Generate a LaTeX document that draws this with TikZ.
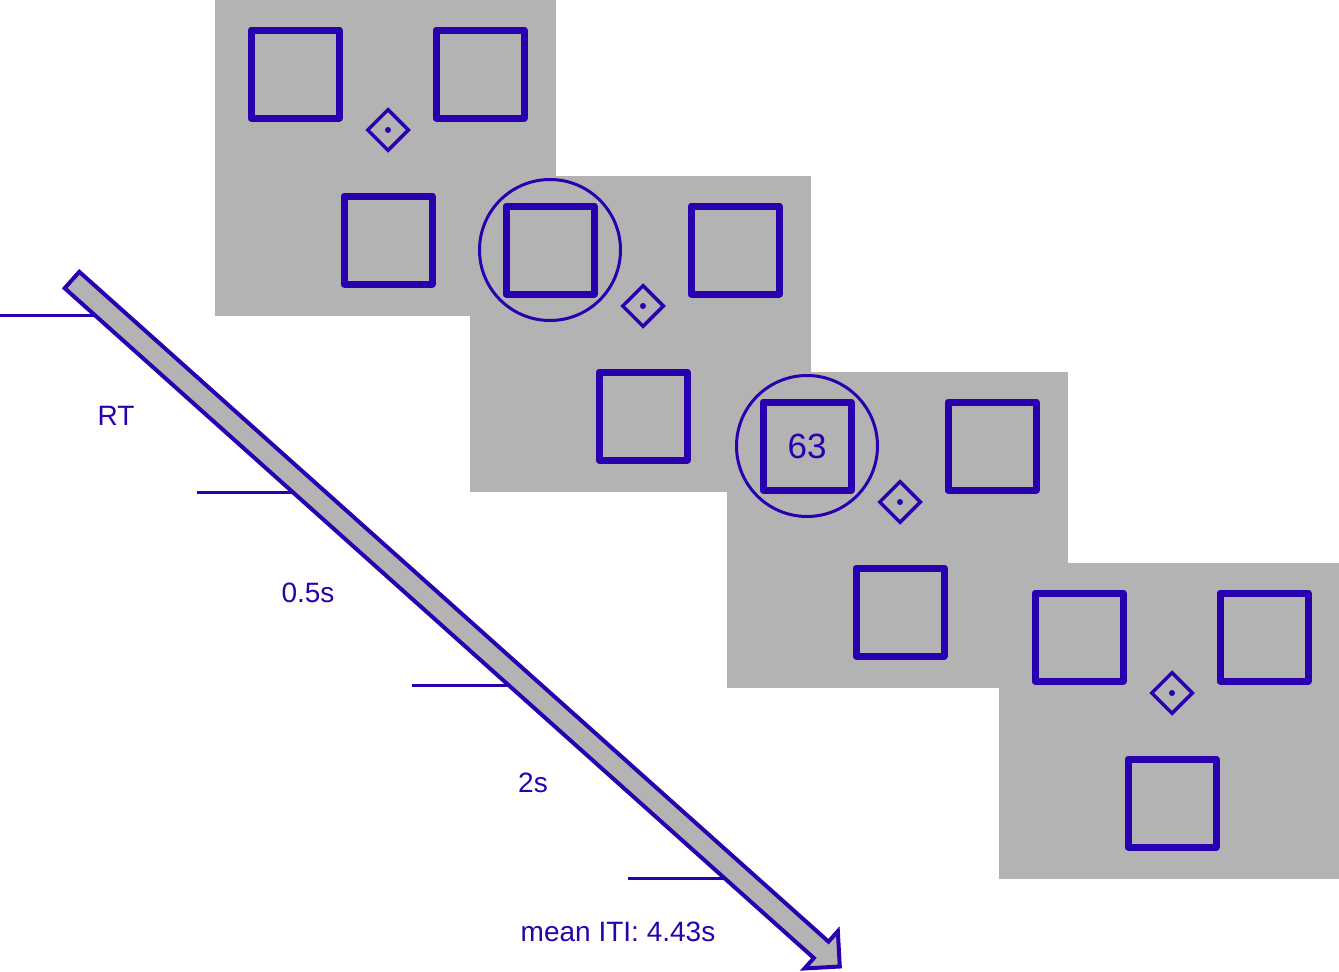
\documentclass[tikz,border=0pt]{standalone}
\usepackage{fontspec}
\setmainfont{Liberation Sans}
\usetikzlibrary{shapes.geometric,positioning}
\definecolor{stimblue}{RGB}{40,0,175}
\definecolor{screengrey}{RGB}{179,179,179}
\tikzset{
  box/.style={draw=stimblue,line width=7pt,minimum size=88pt,inner sep=0pt,line join=round},
  fix/.style={draw=stimblue,diamond,line width=3.5pt,minimum size=42pt,inner sep=0pt},
  fixdot/.style={circle,fill=stimblue,minimum size=6pt,inner sep=0pt},
  cue/.style={draw=stimblue,circle,line width=3pt,minimum size=141pt,inner sep=0pt},
  timetick/.style={draw=stimblue,line width=3pt},
  lbl/.style={text=stimblue,font=\fontsize{28}{30}\selectfont,anchor=base},
}

\begin{document}
\begin{tikzpicture}[x=1pt,y=-1pt]
\useasboundingbox (0,0) rectangle (1339,972);
% the four screens
\foreach \px/\py/\n in {215/0/1,470/176/2,727/372/3,999/563/4}{
  \begin{scope}[shift={(\px,\py)}]
    \fill[screengrey] (0,0) rectangle (341,316);
    \node[box] (tl\n) at (80,74) {};
    \node[box] (tr\n) at (265,74) {};
    \node[box] (bt\n) at (173,240) {};
    \node[fix] (fix\n) at (173,130) {};
    \node[fixdot] (dot\n) at (fix\n) {};
  \end{scope}
}
\node[cue] (cue2) at (tl2) {};
\node[cue] (cue3) at (tl3) {};
\node[text=stimblue,font=\fontsize{35}{37}\selectfont] (pts) at (tl3) {63};

% time line
\foreach \a/\b/\y in {0/111/315,197/309/492,412/525/685,628/741/878}
  \draw[timetick] (\a,\y) -- (\b,\y);
\begin{scope}[shift={(72,280)},rotate=-41.8]
  \coordinate (tstart) at (0,0);
  \coordinate (tend) at (1030,0);
  \draw[stimblue,line width=4pt,fill=screengrey]
    (tstart) ++(0,-11) -- (1005,-11) -- (1005,-25) -- (tend)
    -- (1005,25) -- (1005,11) -- (0,11) -- cycle;
\end{scope}
\node[lbl] (rt) at (116,425) {RT};
\node[lbl] (fb) at (308,602) {0.5s};
\node[lbl] (cue) at (533,792) {2s};
\node[lbl] (iti) at (618,941) {mean ITI: 4.43s};
\end{tikzpicture}
\end{document}
